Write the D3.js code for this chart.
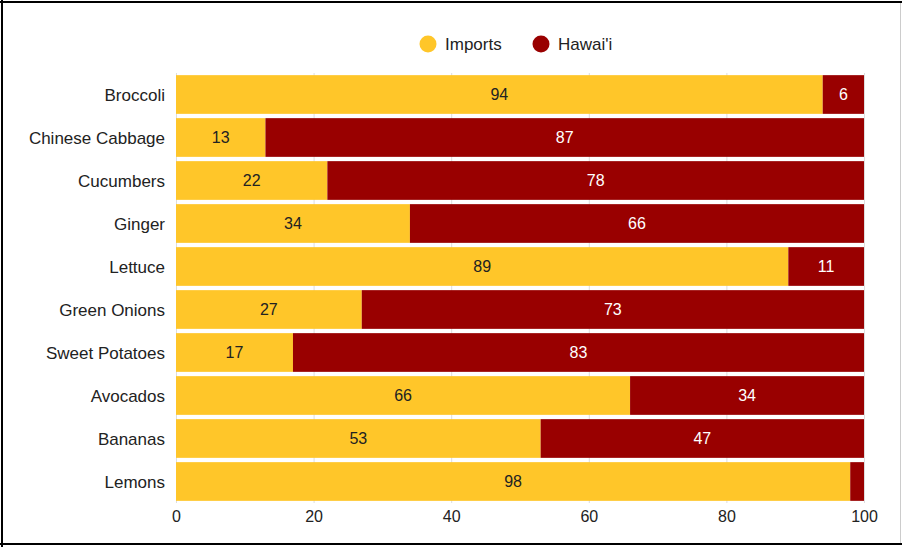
<!DOCTYPE html>
<html><head><meta charset="utf-8">
<script src="https://cdn.jsdelivr.net/npm/d3@7"></script>
<style>body{margin:0;background:#fff;} text{font-family:"Liberation Sans",Arial,sans-serif;}</style>
</head><body>
<svg id="c" width="902" height="547"></svg>
<script>
const categories = ["Broccoli","Chinese Cabbage","Cucumbers","Ginger","Lettuce","Green Onions","Sweet Potatoes","Avocados","Bananas","Lemons"];
const imports = [94,13,22,34,89,27,17,66,53,98];
const hawaii = [6,87,78,66,11,73,83,34,47,2];
const seriesNames = ["Imports","Hawai'i"];
const colors = ["#FFC629","#990000"];
const labelColors = ["#222","#fff"];
const xTicks = [0,20,40,60,80,100];

const svg = d3.select("#c");
// frame
svg.append("line").attr("x1",2).attr("y1",0).attr("x2",2).attr("y2",547).attr("stroke","#000").attr("stroke-width",2);
svg.append("line").attr("x1",0).attr("y1",2).attr("x2",902).attr("y2",2).attr("stroke","#000").attr("stroke-width",2);
svg.append("line").attr("x1",0).attr("y1",544).attr("x2",902).attr("y2",544).attr("stroke","#000").attr("stroke-width",2);
svg.append("line").attr("x1",900.5).attr("y1",3).attr("x2",900.5).attr("y2",543).attr("stroke","#ccc").attr("stroke-width",1);

const x = d3.scaleLinear().domain([0,100]).range([176,864]);
const y = d3.scaleBand().domain(categories).range([73,503]).paddingInner(0.1).paddingOuter(0.05);

// gridlines
svg.append("g").selectAll("line").data(xTicks).join("line")
  .attr("x1",d=>x(d)+0.5).attr("x2",d=>x(d)+0.5).attr("y1",73).attr("y2",503)
  .attr("stroke","#ddd").attr("stroke-width",1);

const data = categories.map((c,i)=>({cat:c, Imports:imports[i], "Hawai'i":hawaii[i]}));
const stack = d3.stack().keys(seriesNames)(data);

const g = svg.append("g");
stack.forEach((s,si)=>{
  g.append("g").selectAll("rect").data(s).join("rect")
    .attr("x",d=>x(d[0])).attr("width",d=>x(d[1])-x(d[0]))
    .attr("y",d=>y(d.data.cat)).attr("height",y.bandwidth())
    .attr("fill",colors[si]);
  g.append("g").selectAll("text").data(s.filter(d=>d[1]-d[0]>=5)).join("text")
    .attr("x",d=>(x(d[0])+x(d[1]))/2).attr("y",d=>y(d.data.cat)+y.bandwidth()/2)
    .attr("dy","0.36em").attr("text-anchor","middle").attr("font-size",16)
    .attr("fill",labelColors[si]).text(d=>d[1]-d[0]);
});

// y labels
svg.append("g").selectAll("text").data(categories).join("text")
  .attr("x",165).attr("y",d=>y(d)+y.bandwidth()/2).attr("dy","0.36em")
  .attr("text-anchor","end").attr("font-size",17).attr("fill","#222").text(d=>d);

// x axis
const xa = svg.append("g").attr("transform","translate(0,504)")
  .call(d3.axisBottom(x).tickValues(xTicks).tickSize(0).tickPadding(7));
xa.select(".domain").remove();
xa.selectAll("text").attr("font-size",16).attr("fill","#222").style("font-family","Liberation Sans, Arial, sans-serif");

// legend
const leg = svg.append("g");
const legX = [428,541];
seriesNames.forEach((n,i)=>{
  leg.append("circle").attr("cx",legX[i]).attr("cy",44).attr("r",8.5).attr("fill",colors[i]);
  leg.append("text").attr("x",legX[i]+17).attr("y",44).attr("dy","0.36em").attr("font-size",17).attr("fill","#222").text(n);
});
</script>
</body></html>
